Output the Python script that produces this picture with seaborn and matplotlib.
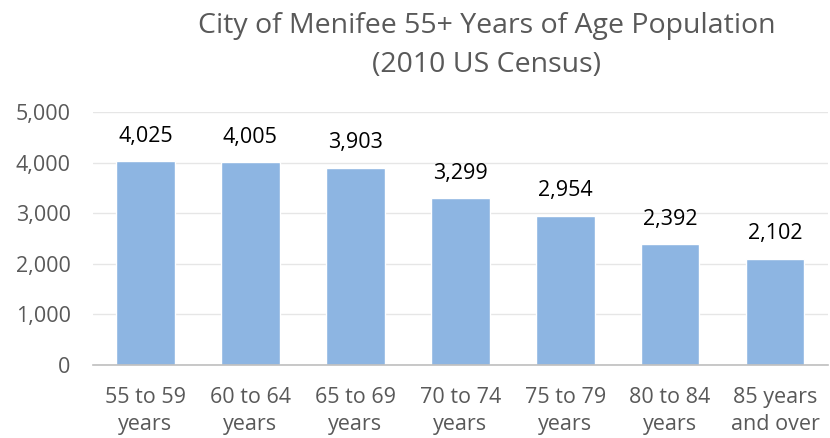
import matplotlib
matplotlib.use("Agg")
import matplotlib.pyplot as plt
import seaborn as sns
import pandas as pd

categories = ["55 to 59\nyears", "60 to 64\nyears", "65 to 69\nyears", "70 to 74\nyears",
              "75 to 79\nyears", "80 to 84\nyears", "85 years\nand over"]
population = [4025, 4005, 3903, 3299, 2954, 2392, 2102]
yticks = [0, 1000, 2000, 3000, 4000, 5000]

sns.set_style("white")
plt.rcParams['font.family'] = ['Open Sans', 'DejaVu Sans']

df = pd.DataFrame({"age": categories, "pop": population})

fig = plt.figure(figsize=(8.3, 4.38), dpi=100)
ax = fig.add_axes([0.112, 0.167, 0.885, 0.577])
sns.barplot(data=df, x="age", y="pop", color="#8DB5E2", saturation=1, width=0.56, ax=ax)

ax.set_ylim(0, 5000)
ax.set_yticks(yticks)
ax.set_yticklabels([f"{v:,}" for v in yticks])
ax.yaxis.grid(True, color="#E6E6E6", linewidth=1)
ax.set_axisbelow(True)
for s in ["top", "right", "left"]:
    ax.spines[s].set_visible(False)
ax.spines["bottom"].set_color("#BFBFBF")
ax.spines["bottom"].set_linewidth(1.2)
ax.tick_params(axis="both", length=0, labelsize=15.5, labelcolor="#595959")
ax.tick_params(axis="y", pad=16)
ax.tick_params(axis="x", pad=16)
for lbl in ax.get_xticklabels():
    lbl.set_linespacing(1.35)
ax.set_xlabel("")
ax.set_ylabel("")

for i, v in enumerate(population):
    ax.text(i, v + 280, f"{v:,}", ha="center", va="bottom", fontsize=15.5, color="black")

fig.suptitle("City of Menifee 55+ Years of Age Population\n(2010 US Census)",
             x=0.586, y=0.972, fontsize=20.5, color="#595959", linespacing=1.5)

fig.savefig("out.png", dpi=100)
